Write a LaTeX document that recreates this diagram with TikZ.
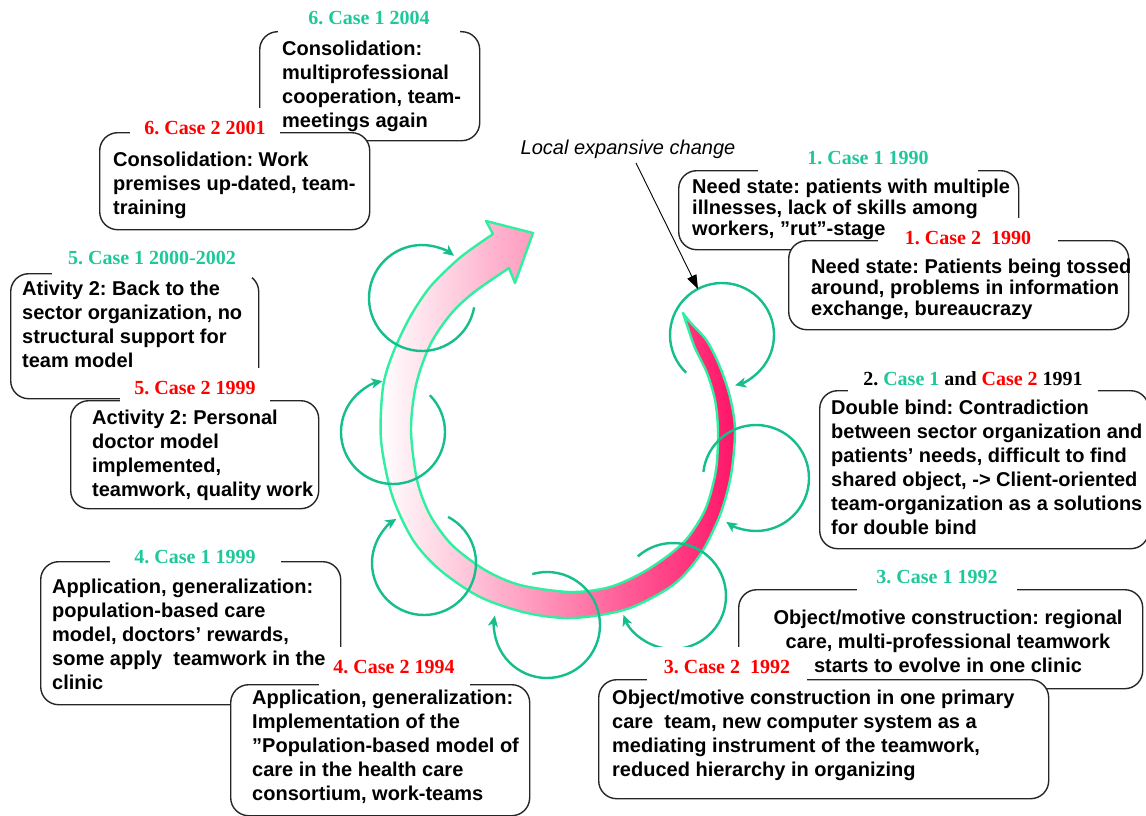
\documentclass[tikz,border=0pt]{standalone}
\usepackage{fontspec}
\setmainfont{Liberation Sans}
\newfontfamily\serifhead{Liberation Serif}
\usetikzlibrary{arrows.meta}
\frenchspacing

\definecolor{loopgreen}{RGB}{22,190,140}
\definecolor{bandline}{RGB}{46,240,160}
\definecolor{deeppink}{RGB}{255,20,104}
\definecolor{midpink}{RGB}{255,182,198}
\definecolor{caseone}{RGB}{30,200,155}
\definecolor{casetwo}{RGB}{255,0,0}

\tikzset{
  boxframe/.style={draw=black!85, line width=1.4pt, rounded corners=18pt,
    fill=white, anchor=north west, inner sep=0pt},
  casehead/.style={fill=white, inner sep=0pt, minimum height=40pt,
    font=\serifhead\bfseries\fontsize{20}{24}\selectfont},
  boxtext/.style={anchor=north west, inner sep=0pt, align=left,
    font=\bfseries\fontsize{20}{24}\selectfont},
  tighttext/.style={boxtext, font=\bfseries\fontsize{20}{21}\selectfont},
  cyclearc/.style={draw=loopgreen, line width=2.4pt,
    -{Stealth[length=11pt,width=10pt,inset=3pt]}},
}

% one small learning cycle: centre, radius, start and end angle
\newcommand{\learncycle}[5]{%
  \draw[cyclearc] (#1,#2) ++(#4:#3) arc[start angle=#4, end angle=#5, radius=#3];}

\begin{document}
\begin{tikzpicture}[x=1pt,y=-1pt]
\useasboundingbox (0,0) rectangle (1146,816);
\fill[white] (0,0) rectangle (1146,816);

% the expansive cycle: a band running clockwise from its tail to the arrow head
\path[draw=bandline, line width=2.4pt, line join=round,
      left color=white, middle color=midpink, right color=deeppink]
  plot[smooth] coordinates {(683,313) (690,322) (707,341) (720,367) (730,397)
     (735,430) (731,475) (720,515) (700,555) (673,585) (627,609) (573,618)
     (527,613) (480,597) (440,570) (413,540) (392,495) (381,440) (383,387)
     (393,353) (410,317) (430,287) (455,262) (470,250) (493,234)}
  -- (486,221) -- (533,233) -- (515,283) -- (509,268)
  -- plot[smooth] coordinates {(509,268) (473,293) (450,315) (430,345)
     (416,385) (411,430) (417,480) (430,515) (452,545) (485,570) (520,585)
     (570,592) (610,587) (647,570) (683,543) (705,510) (716,470) (718,430)
     (715,400) (707,373) (695,348) (688,328)}
  -- cycle;

% small cycles along the band
\learncycle{722}{335}{52}{133.5}{435.5}
\learncycle{756}{478}{53}{186.7}{484.2}
\learncycle{673}{596}{53}{228.3}{519.2}
\learncycle{547}{625}{53}{253.9}{550.3}
\learncycle{424}{563}{52}{297.6}{598}
\learncycle{393}{432}{52}{315}{618.3}
\learncycle{422}{298}{53}{10.2}{307.3}

% pointer to the local change
\node[font=\itshape\fontsize{20}{24}\selectfont, inner sep=0pt] (lec) at (628,149) {Local expansive change};
\coordinate (lecfoot) at (636,163);
\coordinate (lectip) at (698,289);
\draw[line width=0.9pt, -{Triangle[length=14pt,width=10pt]}] (lecfoot) -- (lectip);

% frames
\node[boxframe, minimum width=220pt, minimum height=109pt] (f61) at (259,31) {};
\node[boxframe, minimum width=270pt, minimum height=97pt] (f62) at (99,132) {};
\node[boxframe, minimum width=248pt, minimum height=125pt] (f51) at (10,273) {};
\node[boxframe, minimum width=248pt, minimum height=108pt] (f52) at (70,400) {};
\node[boxframe, minimum width=300pt, minimum height=143pt] (f41) at (40,561) {};
\node[boxframe, minimum width=299pt, minimum height=131pt] (f42) at (230,684) {};
\node[boxframe, minimum width=340pt, minimum height=79pt] (f11) at (678,170) {};
\node[boxframe, minimum width=340pt, minimum height=89pt] (f12) at (788,240) {};
\node[boxframe, minimum width=329pt, minimum height=158pt] (f2) at (819,390) {};
\node[boxframe, minimum width=404pt, minimum height=99pt] (f31) at (738,589) {};
\node[boxframe, minimum width=450pt, minimum height=119pt] (f32) at (598,679) {};

% headings
\node[casehead, minimum width=182pt, text=caseone] (h61) at (369,18) {6. Case 1 2004};
\node[casehead, minimum width=150pt, text=casetwo] (h62) at (205,128) {6. Case 2 2001};
\node[casehead, minimum width=200pt, text=caseone] (h51) at (152,258) {5. Case 1 2000-2002};
\node[casehead, minimum width=150pt, text=casetwo] (h52) at (195,388) {5. Case 2 1999};
\node[casehead, minimum width=171pt, text=caseone] (h41) at (195,557) {4. Case 1 1999};
\node[casehead, minimum width=151pt, text=casetwo] (h42) at (394,667) {4. Case 2 1994};
\node[casehead, minimum width=220pt, text=caseone] (h11) at (868,158) {1. Case 1 1990};
\node[casehead, minimum width=180pt, text=casetwo] (h12) at (968,238) {1. Case 2~ 1990};
\node[casehead, minimum width=250pt] (h2) at (973,379)
  {2. \textcolor{caseone}{Case 1} and \textcolor{casetwo}{Case 2} 1991};
\node[casehead, minimum width=160pt, text=caseone] (h31) at (937,577) {3. Case 1 1992};
\node[casehead, minimum width=160pt, text=casetwo] (h32) at (727,667) {3. Case 2~ 1992};

% texts
\node[boxtext] (t61) at (282,41) {Consolidation:\\multiprofessional\\cooperation, team-\\meetings again};
\node[boxtext] (t62) at (113,152) {Consolidation: Work\\premises up-dated, team-\\training};
\node[boxtext] (t51) at (22,281) {Ativity 2: Back to the\\sector organization, no\\structural support for\\team model};
\node[boxtext] (t52) at (92,410) {Activity 2: Personal\\doctor model\\implemented,\\teamwork, quality work};
\node[boxtext] (t41) at (52,579) {Application, generalization:\\population-based care\\model, doctors’ rewards,\\some apply~ teamwork in the\\clinic};
\node[boxtext] (t42) at (252,690) {Application, generalization:\\Implementation of the\\”Population-based model of\\care in the health care\\consortium, work-teams};
\node[tighttext] (t11) at (692,179) {Need state: patients with multiple\\illnesses, lack of skills among\\workers, ”rut”-stage};
\node[tighttext] (t12) at (811,259) {Need state: Patients being tossed\\around, problems in information\\exchange, bureaucrazy};
\node[boxtext] (t2) at (831,400) {Double bind: Contradiction\\between sector organization and\\patients’ needs, difficult to find\\shared object, -> Client-oriented\\team-organization as a solutions\\for double bind};
\node[boxtext, anchor=north, align=center] (t31) at (948,610) {Object/motive construction: regional\\care, multi-professional teamwork\\starts to evolve in one clinic};
\node[boxtext] (t32) at (612,690) {Object/motive construction in one primary\\care~ team, new computer system as a\\mediating instrument of the teamwork,\\reduced hierarchy in organizing};
\end{tikzpicture}
\end{document}
